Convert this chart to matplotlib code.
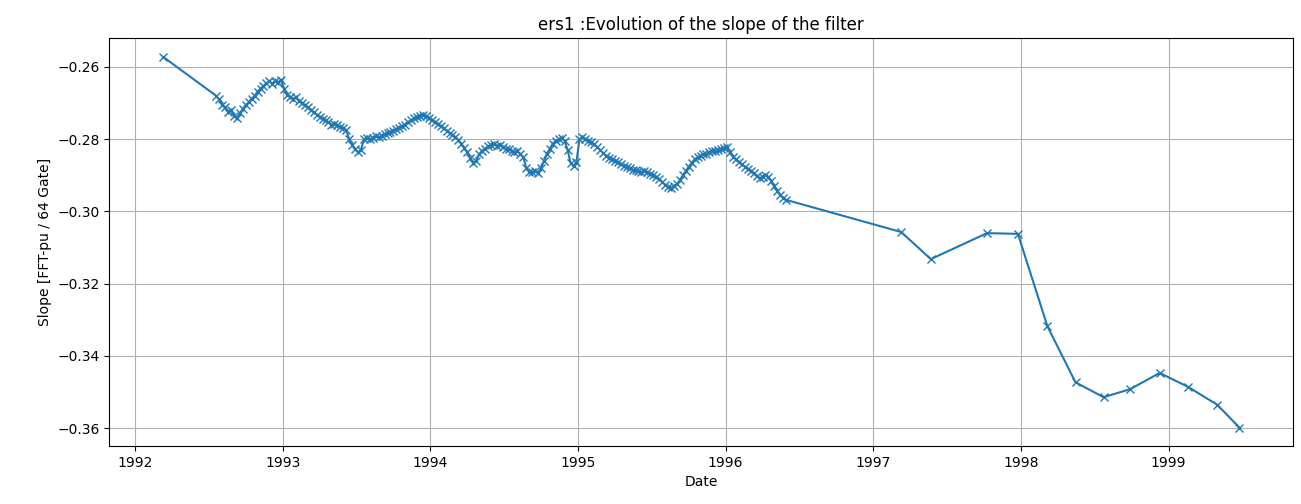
import matplotlib
matplotlib.use('Agg')
import matplotlib.pyplot as plt
from matplotlib.ticker import MultipleLocator, FormatStrFormatter

# decimal year of each filter estimate
dates = [
    1992.19,
    1992.55, 1992.57, 1992.59, 1992.61, 1992.63, 1992.65, 1992.67, 1992.69, 1992.71, 1992.73,
    1992.75, 1992.77, 1992.79, 1992.81, 1992.83, 1992.85, 1992.87, 1992.89, 1992.91, 1992.93,
    1992.95, 1992.97, 1992.99, 1993.01, 1993.03, 1993.05, 1993.07, 1993.09, 1993.11, 1993.13,
    1993.15, 1993.17, 1993.19, 1993.21, 1993.23, 1993.25, 1993.27, 1993.29, 1993.31, 1993.33,
    1993.35, 1993.37, 1993.39, 1993.41, 1993.43, 1993.45, 1993.47, 1993.49, 1993.51, 1993.53,
    1993.55, 1993.57, 1993.59, 1993.61, 1993.63, 1993.65, 1993.67, 1993.69, 1993.71, 1993.73,
    1993.75, 1993.77, 1993.79, 1993.81, 1993.83, 1993.85, 1993.87, 1993.89, 1993.91, 1993.93,
    1993.95, 1993.97, 1993.99, 1994.01, 1994.03, 1994.05, 1994.07, 1994.09, 1994.11, 1994.13,
    1994.15, 1994.17, 1994.19, 1994.21, 1994.23, 1994.25, 1994.27, 1994.29, 1994.31, 1994.33,
    1994.35, 1994.37, 1994.39, 1994.41, 1994.43, 1994.45, 1994.47, 1994.49, 1994.51, 1994.53,
    1994.55, 1994.57, 1994.59, 1994.61, 1994.63, 1994.65, 1994.67, 1994.69, 1994.71, 1994.73,
    1994.75, 1994.77, 1994.79, 1994.81, 1994.83, 1994.85, 1994.87, 1994.89, 1994.91, 1994.93,
    1994.95, 1994.97, 1994.99, 1995.01, 1995.03, 1995.05, 1995.07, 1995.09, 1995.11, 1995.13,
    1995.15, 1995.17, 1995.19, 1995.21, 1995.23, 1995.25, 1995.27, 1995.29, 1995.31, 1995.33,
    1995.35, 1995.37, 1995.39, 1995.41, 1995.43, 1995.45, 1995.47, 1995.49, 1995.51, 1995.53,
    1995.55, 1995.57, 1995.59, 1995.61, 1995.63, 1995.65, 1995.67, 1995.69, 1995.71, 1995.73,
    1995.75, 1995.77, 1995.79, 1995.81, 1995.83, 1995.85, 1995.87, 1995.89, 1995.91, 1995.93,
    1995.95, 1995.97, 1995.99, 1996.01, 1996.03, 1996.05, 1996.07, 1996.09, 1996.11, 1996.13,
    1996.15, 1996.17, 1996.19, 1996.21, 1996.23, 1996.25, 1996.27, 1996.29, 1996.31, 1996.33,
    1996.35, 1996.37, 1996.39, 1996.41,
    1997.19, 1997.39, 1997.77, 1997.98, 1998.18, 1998.37, 1998.56, 1998.74, 1998.94, 1999.13,
    1999.33, 1999.48,
]

slopes = [
    -0.2572,
    -0.2680, -0.2690, -0.2705, -0.2712, -0.2725, -0.2718, -0.2735, -0.2742, -0.2728, -0.2716,
    -0.2705, -0.2698, -0.2688, -0.2680, -0.2668, -0.2660, -0.2652, -0.2645, -0.2640, -0.2646,
    -0.2638, -0.2642, -0.2636, -0.2660, -0.2678, -0.2682, -0.2688, -0.2684, -0.2694, -0.2700,
    -0.2706, -0.2712, -0.2720, -0.2726, -0.2732, -0.2738, -0.2744, -0.2748, -0.2752, -0.2760,
    -0.2758, -0.2762, -0.2766, -0.2770, -0.2774, -0.2800, -0.2815, -0.2828, -0.2836, -0.2830,
    -0.2800, -0.2796, -0.2800, -0.2796, -0.2792, -0.2795, -0.2790, -0.2786, -0.2782, -0.2780,
    -0.2776, -0.2772, -0.2768, -0.2764, -0.2760, -0.2752, -0.2748, -0.2742, -0.2738, -0.2735,
    -0.2732, -0.2736, -0.2740, -0.2746, -0.2752, -0.2758, -0.2764, -0.2770, -0.2776, -0.2782,
    -0.2788, -0.2794, -0.2802, -0.2812, -0.2824, -0.2836, -0.2852, -0.2866, -0.2860, -0.2842,
    -0.2832, -0.2826, -0.2820, -0.2816, -0.2812, -0.2818, -0.2815, -0.2822, -0.2826, -0.2828,
    -0.2832, -0.2836, -0.2834, -0.2840, -0.2850, -0.2880, -0.2890, -0.2892, -0.2888, -0.2894,
    -0.2880, -0.2860, -0.2840, -0.2826, -0.2812, -0.2804, -0.2800, -0.2798, -0.2804, -0.2830,
    -0.2866, -0.2874, -0.2862, -0.2800, -0.2794, -0.2800, -0.2804, -0.2808, -0.2814, -0.2822,
    -0.2830, -0.2838, -0.2846, -0.2852, -0.2856, -0.2860, -0.2864, -0.2868, -0.2874, -0.2878,
    -0.2880, -0.2884, -0.2886, -0.2888, -0.2890, -0.2888, -0.2892, -0.2896, -0.2898, -0.2904,
    -0.2910, -0.2918, -0.2926, -0.2932, -0.2934, -0.2930, -0.2924, -0.2914, -0.2900, -0.2888,
    -0.2876, -0.2866, -0.2856, -0.2850, -0.2846, -0.2842, -0.2840, -0.2836, -0.2834, -0.2832,
    -0.2830, -0.2828, -0.2824, -0.2822, -0.2836, -0.2848, -0.2856, -0.2864, -0.2870, -0.2876,
    -0.2882, -0.2888, -0.2894, -0.2902, -0.2908, -0.2904, -0.2898, -0.2904, -0.2916, -0.2930,
    -0.2942, -0.2954, -0.2962, -0.2968,
    -0.3057, -0.3132, -0.3060, -0.3062, -0.3318, -0.3473, -0.3514, -0.3492, -0.3447, -0.3485,
    -0.3535, -0.3598,
]


def main():
    fig, ax = plt.subplots(figsize=(13.01, 5.04), dpi=100)
    fig.subplots_adjust(left=0.084, right=0.994, top=0.924, bottom=0.115)

    ax.plot(dates, slopes, marker='x')
    ax.set_title('ers1 :Evolution of the slope of the filter')
    ax.set_xlabel('Date')
    ax.set_ylabel('Slope [FFT-pu / 64 Gate]')
    ax.xaxis.set_major_locator(MultipleLocator(1))
    ax.xaxis.set_major_formatter(FormatStrFormatter('%d'))
    ax.grid(True)

    fig.savefig('out.png')


if __name__ == '__main__':
    main()
